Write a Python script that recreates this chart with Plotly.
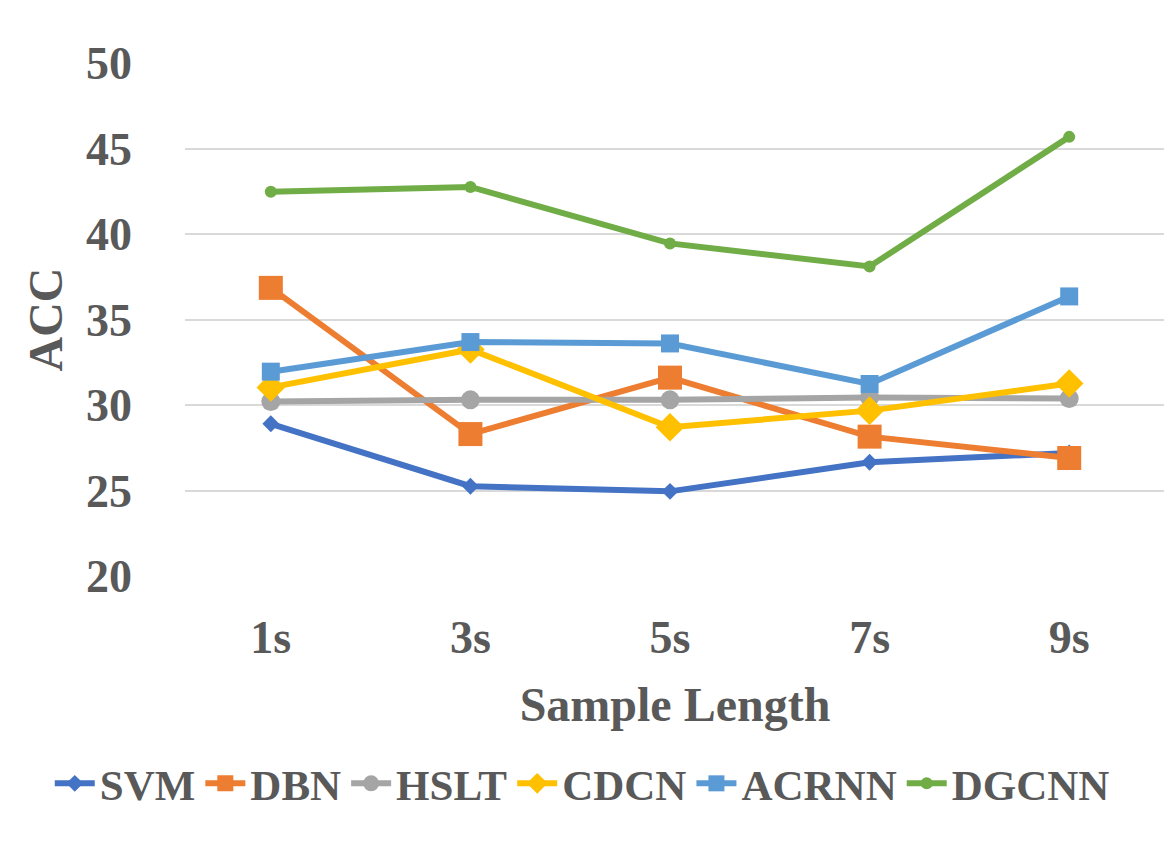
import plotly.graph_objects as go

categories = ["1s", "3s", "5s", "7s", "9s"]
svm = [28.9, 25.25, 24.95, 26.65, 27.2]
dbn = [36.85, 28.3, 31.6, 28.15, 26.9]
hslt = [30.2, 30.3, 30.3, 30.44, 30.38]
cdcn = [31.03, 33.25, 28.7, 29.67, 31.26]
acrnn = [31.95, 33.68, 33.6, 31.23, 36.35]
dgcnn = [42.47, 42.75, 39.45, 38.1, 45.68]

series = [
    ("SVM", svm, "#4472C4", "diamond", 13),
    ("DBN", dbn, "#ED7D31", "square", 24),
    ("HSLT", hslt, "#A5A5A5", "circle", 19),
    ("CDCN", cdcn, "#FFC000", "diamond", 22),
    ("ACRNN", acrnn, "#5B9BD5", "square", 18),
    ("DGCNN", dgcnn, "#70AD47", "circle", 12),
]

fig = go.Figure()
for name, vals, color, sym, size in series:
    fig.add_trace(go.Scatter(
        x=list(range(len(categories))), y=vals, name=name, mode="lines+markers",
        line=dict(color=color, width=6),
        marker=dict(symbol=sym, size=size, color=color),
    ))

font_family = "Liberation Serif, Times New Roman, serif"
gray = "#595959"
fig.update_layout(
    width=1172, height=852,
    margin=dict(l=177, r=15, t=55, b=284),
    plot_bgcolor="white", paper_bgcolor="white",
    font=dict(family=font_family, color=gray),
    showlegend=True,
    legend=dict(orientation="h", x=-0.138, xanchor="left", y=-0.337, yanchor="top",
                font=dict(family=font_family, size=43, color=gray, weight="bold"),
                itemwidth=40, tracegroupgap=0),
    xaxis=dict(
        tickmode="array", tickvals=list(range(len(categories))), ticktext=categories,
        range=[-0.43, 4.48], showgrid=False, zeroline=False, showline=False,
        ticks="", ticklabelstandoff=30,
        tickfont=dict(family=font_family, size=46, color=gray, weight="bold"),
        title=dict(text="Sample Length", standoff=25,
                   font=dict(family=font_family, size=48, color=gray, weight="bold")),
    ),
    yaxis=dict(
        range=[20, 50], dtick=5, showgrid=True, gridcolor="#D9D9D9", gridwidth=1.5,
        zeroline=False, showline=False, ticks="", ticklabelstandoff=52,
        tickfont=dict(family=font_family, size=46, color=gray, weight="bold"),
        title=dict(text="ACC", standoff=8,
                   font=dict(family=font_family, size=48, color=gray, weight="bold")),
    ),
)

fig.write_html("out.html")
